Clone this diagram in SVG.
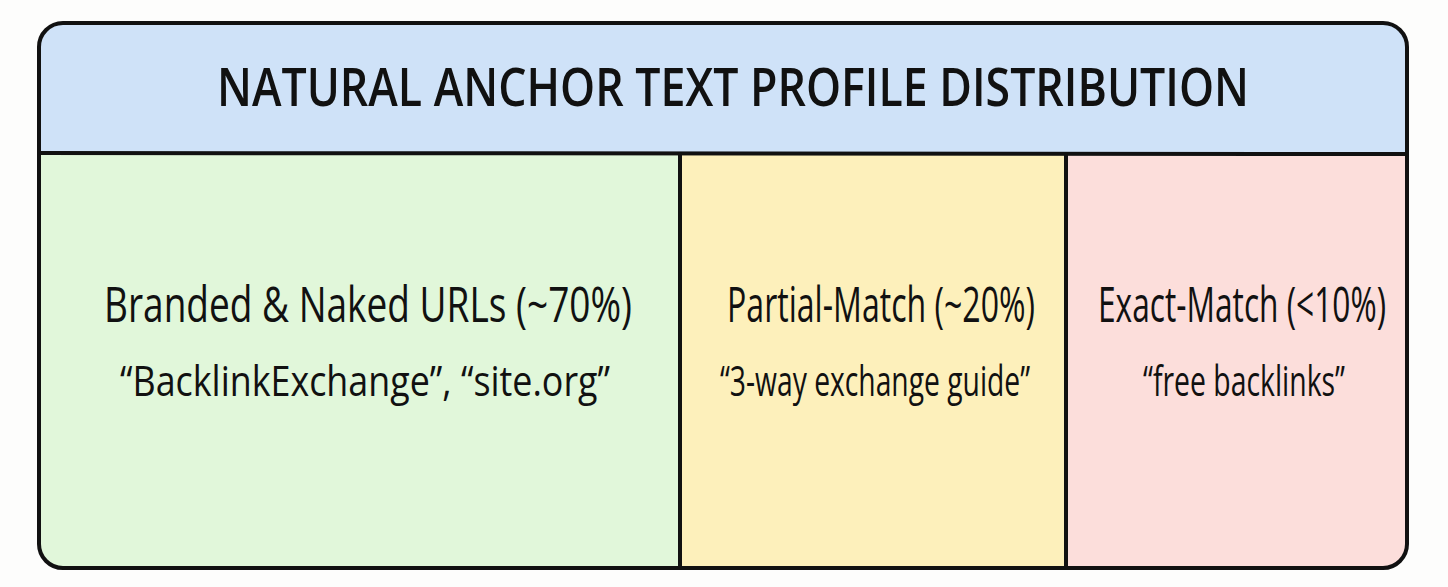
<svg xmlns="http://www.w3.org/2000/svg" width="1448" height="587" viewBox="0 0 1448 587">
<defs>
<style>
.t{font-family:"Open Sans","Liberation Sans",sans-serif;fill:#111;text-anchor:middle}
.h{font-size:46px;font-weight:600}
.l{font-size:36px}
.s{font-size:34px}
.ln{stroke:#111;stroke-width:4;fill:none;stroke-linecap:round}
</style>
<clipPath id="c"><rect x="39" y="23" width="1368" height="545" rx="24"/></clipPath>
</defs>
<rect width="1448" height="587" fill="#fdfdfc"/>
<g clip-path="url(#c)">
<rect id="bg-head" x="39" y="23" width="1368" height="130" fill="#cfe2f8"/>
<rect x="39" y="153" width="641" height="415" fill="#e1f7da"/>
<rect x="680" y="153" width="386" height="415" fill="#fdf0bb"/>
<rect x="1066" y="153" width="341" height="415" fill="#fcdedb"/>
</g>
<g id="connectors">
<line class="ln" x1="39" y1="153" x2="1407" y2="154"/>
<line class="ln" x1="680" y1="154" x2="680" y2="566"/>
<line class="ln" x1="1066" y1="155" x2="1066" y2="566"/>
</g>
<g id="frame"><rect class="ln" x="39" y="23" width="1368" height="545" rx="24" stroke-width="4.5"/></g>
<g id="title"><text class="t h" transform="translate(733,106) scale(1,1.15)" textLength="1032" lengthAdjust="spacingAndGlyphs">NATURAL ANCHOR TEXT PROFILE DISTRIBUTION</text></g>
<g id="branded">
<text class="t l" transform="translate(368,322) scale(1,1.35)" textLength="528" lengthAdjust="spacingAndGlyphs">Branded &amp; Naked URLs (~70%)</text>
<text class="t s" transform="translate(365,396) scale(1,1.25)" textLength="490" lengthAdjust="spacingAndGlyphs">“BacklinkExchange”, “site.org”</text>
</g>
<g id="partial">
<text class="t l" transform="translate(881,322) scale(1,1.35)" textLength="308" lengthAdjust="spacingAndGlyphs">Partial-Match (~20%)</text>
<text class="t s" transform="translate(875,396) scale(1,1.25)" textLength="310" lengthAdjust="spacingAndGlyphs">“3-way exchange guide”</text>
</g>
<g id="exact">
<text class="t l" transform="translate(1242,322) scale(1,1.35)" textLength="288" lengthAdjust="spacingAndGlyphs">Exact-Match (&lt;10%)</text>
<text class="t s" transform="translate(1244,396) scale(1,1.25)" textLength="202" lengthAdjust="spacingAndGlyphs">“free backlinks”</text>
</g>
</svg>
